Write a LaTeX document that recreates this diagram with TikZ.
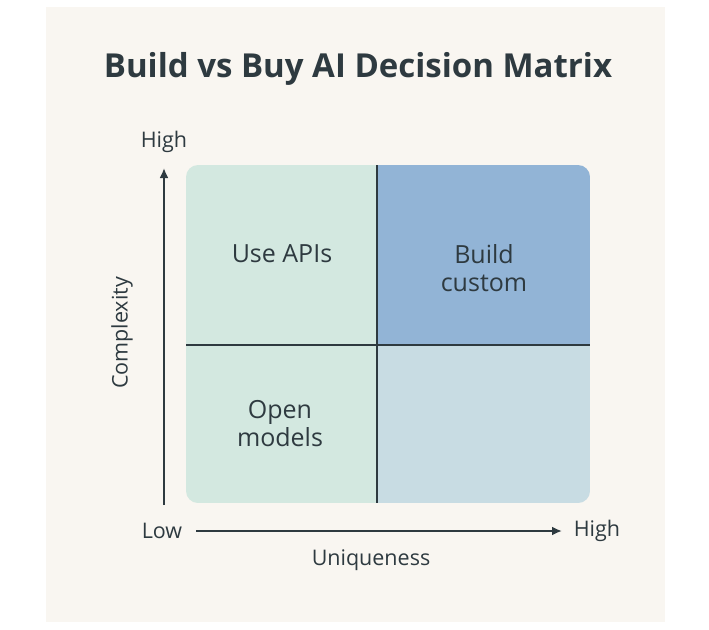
\documentclass[tikz,border=0pt]{standalone}
\usepackage{fontspec}
\setmainfont{Open Sans}
\definecolor{panel}{HTML}{F9F6F1}
\definecolor{ink}{HTML}{2E3A40}
\definecolor{lowgreen}{HTML}{D3E8E0}
\definecolor{highblue}{HTML}{92B4D6}
\definecolor{paleblue}{HTML}{C8DCE3}
\tikzset{
  cell/.style={inner sep=0pt},
  celltext/.style={font=\fontsize{25}{28}\selectfont, text=ink, align=center},
  axistext/.style={font=\fontsize{21.5}{24}\selectfont, text=ink},
  axisline/.style={ink, line width=2.4pt, -{Latex[length=10pt,width=9pt]}}
}
\usetikzlibrary{arrows.meta}
\begin{document}
\begin{tikzpicture}[x=1pt, y=-1pt]
    \useasboundingbox (0,0) rectangle (709,629);
    \fill[white] (0,0) rectangle (709,629);
    \fill[panel] (46,7) rectangle (665,622);

    % Title
    \node[font=\fontsize{33}{36}\selectfont\bfseries, text=ink] (title) at (358,69) {Build vs Buy AI Decision Matrix};

    % Quadrants
    \begin{scope}
        \clip[rounded corners=12pt] (186,165) rectangle (590,503);
        \fill[lowgreen] (186,165) rectangle (377,503);
        \fill[highblue] (377,165) rectangle (590,345);
        \fill[paleblue] (377,345) rectangle (590,503);
    \end{scope}
    \draw[ink, line width=2pt] (377,165) -- (377,503);
    \draw[ink, line width=2pt] (186,345) -- (590,345);

    \node[celltext] (apis) at (282,254) {Use APIs};
    \node[celltext] (custom) at (484,268) {Build\\custom};
    \node[celltext] (open) at (280,424) {Open\\models};

    % Axes
    \coordinate (yfoot) at (164,505);
    \coordinate (ytop) at (164,168);
    \coordinate (xstart) at (196,531);
    \coordinate (xend) at (562,531);
    \draw[axisline] (yfoot) -- (ytop);
    \draw[axisline] (xstart) -- (xend);
    \node[axistext] (yhigh) at (164,142) {High};
    \node[axistext] (xlow) at (162,531) {Low};
    \node[axistext] (xhigh) at (597,531) {High};
    \node[axistext] (uniq) at (371,560) {Uniqueness};
    \node[axistext, rotate=90] (cplx) at (122,333) {Complexity};
\end{tikzpicture}
\end{document}
